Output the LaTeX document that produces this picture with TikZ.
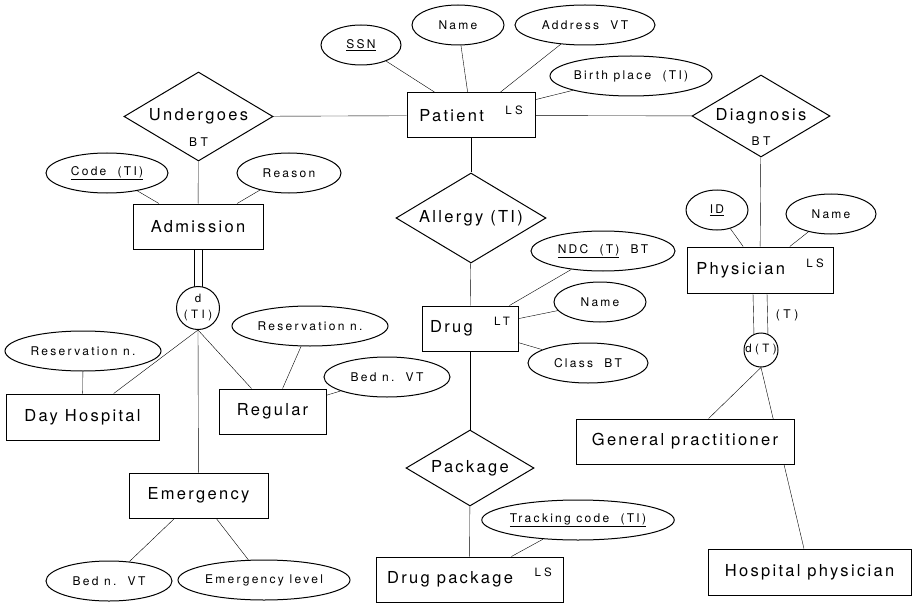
\documentclass[tikz,border=0pt]{standalone}
\usepackage{fontspec}
\setmainfont{TeX Gyre Heros}
\newfontfamily\entityfam[LetterSpace=14]{TeX Gyre Heros}
\newfontfamily\attrfam[LetterSpace=19]{TeX Gyre Heros}
\newfontfamily\tagfam[LetterSpace=30]{TeX Gyre Heros}
\usetikzlibrary{shapes.geometric,positioning,backgrounds}
\newcommand{\ertag}[1]{\hspace{1.3em}\smash{\raisebox{7pt}{\tagfam\fontsize{11.5}{13}\selectfont #1}}}

\begin{document}
\begin{tikzpicture}[x=1pt,y=-1pt,line width=1pt,node distance=26pt,
  entity/.style={rectangle,draw,fill=white,inner sep=0pt,minimum height=45pt,font={\entityfam\fontsize{16.5}{19}\selectfont}},
  relation/.style={diamond,draw,fill=white,aspect=1.68,inner sep=0pt,font={\entityfam\fontsize{16.5}{19}\selectfont}},
  attribute/.style={ellipse,draw,fill=white,inner sep=0pt,minimum height=40pt,font={\attrfam\fontsize{12}{14}\selectfont}},
  isa/.style={circle,draw,fill=white,inner sep=0pt,align=center,font={\tagfam\fontsize{11.5}{16}\selectfont}},
  tag/.style={inner sep=0pt,font={\tagfam\fontsize{12}{14}\selectfont}}]
\useasboundingbox (0,0) rectangle (912,604);

% entities
\node[entity,minimum width=128pt] (patient) at (471,115.5) {Patient\ertag{LS}};
\node[entity,minimum width=130pt] (admission) at (198,226.5) {Admission};
\node[entity,minimum width=96pt] (drug) at (470,328.5) {Drug\ertag{LT}};
\node[entity,minimum width=146pt,minimum height=46pt] (physician) at (760,270) {Physician\ertag{LS}};
\node[entity,minimum width=153pt,minimum height=46pt] (dayhosp) at (82.5,417) {Day Hospital};
\node[entity,minimum width=107pt] (regular) at (272.5,411.5) {Regular};
\node[entity,minimum width=139pt] (emergency) at (198.5,495.5) {Emergency};
\node[entity,minimum width=187pt] (drugpkg) at (469.5,579.5) {Drug package\ertag{LS}};
\node[entity,minimum width=218pt] (gp) at (685,441.5) {General practitioner};
\node[entity,minimum width=203pt,minimum height=46pt] (hosp) at (809.5,572) {Hospital physician};

% relationships
\node[relation,minimum width=149pt,minimum height=89pt] (undergoes) at (198.5,116.5) {Undergoes};
\node[tag] (undergoesbt) [below of=undergoes] {BT};
\node[relation,minimum width=138pt,minimum height=82pt] (diagnosis) at (761,116) {Diagnosis};
\node[tag] (diagnosisbt) [below of=diagnosis,node distance=25pt] {BT};
\node[relation,minimum width=150pt,minimum height=90pt] (allergy) at (471,218) {Allergy (TI)};
\node[relation,minimum width=128pt,minimum height=76pt] (package) at (470,468) {Package};

% generalizations
\node[isa,minimum size=43pt] (dti) at (198,308) {d\\(TI)};
\node[isa,minimum size=34pt] (dt) at (761,350) {d(T)};
\node[tag] (dtnote) at (787,315) {(T)};

% attributes
\node[attribute,minimum width=80pt] (ssn) at (361,45) {\underline{SSN}};
\node[attribute,minimum width=92pt] (pname) at (458,25) {Name};
\node[attribute,minimum width=140pt] (paddress) at (585,25) {Address~~VT};
\node[attribute,minimum width=162pt] (pbirth) at (631,76) {Birth place~~(TI)};
\node[attribute,minimum width=122pt] (acode) at (107,173) {\underline{Code~~(TI)}};
\node[attribute,minimum width=104pt] (areason) at (289,173) {Reason};
\node[attribute,minimum width=62pt] (phid) at (717,210) {\underline{ID}};
\node[attribute,minimum width=90pt] (phname) at (831,214) {Name};
\node[attribute,minimum width=144pt] (dndc) at (603,251) {\underline{NDC~~(T)}~~BT};
\node[attribute,minimum width=92pt] (dname) at (600,302) {Name};
\node[attribute,minimum width=120pt] (dclass) at (588,363) {Class~~BT};
\node[attribute,minimum width=188pt] (ptrack) at (578,520) {\underline{Tracking code~~(TI)}};
\node[attribute,minimum width=156pt] (dhres) at (83,351) {Reservation n.};
\node[attribute,minimum width=156pt] (rres) at (310,326) {Reservation n.};
\node[attribute,minimum width=126pt] (rbed) at (387,377) {Bed n.~~VT};
\node[attribute,minimum width=126pt] (ebed) at (109,581) {Bed n.~~VT};
\node[attribute,minimum width=172pt] (elevel) at (264,580) {Emergency level};

\begin{scope}[on background layer]
\path
(undergoes) edge (patient)
(undergoes) edge (admission)
(diagnosis) edge (patient)
(diagnosis) edge (physician)
(allergy) edge (patient)
(allergy) edge (drug)
(package) edge (drug)
(package) edge (drugpkg)
(ssn) edge (patient)
(pname) edge (patient)
(paddress) edge (patient)
(pbirth) edge (patient)
(acode) edge (admission)
(areason) edge (admission)
(phid) edge (physician)
(phname) edge (physician)
(dndc) edge (drug)
(dname) edge (drug)
(dclass) edge (drug)
(ptrack) edge (drugpkg)
(dhres) edge (dayhosp)
(rres) edge (regular)
(rbed) edge (regular)
(ebed) edge (emergency)
(elevel) edge (emergency)
([xshift=-4pt]admission.south) edge ([xshift=-4pt,yshift=-3pt]dti.north) % total, disjoint
([xshift=4pt]admission.south) edge ([xshift=4pt,yshift=-3pt]dti.north)
(dti.south) edge (dayhosp)
(dti.south) edge (regular)
(dti.south) edge (emergency)
([xshift=-7pt]physician.south) edge ([xshift=-7pt,yshift=-4pt]dt.north)
([xshift=7pt]physician.south) edge ([xshift=7pt,yshift=-4pt]dt.north)
(dt.south) edge (gp)
(dt.south) edge (hosp); % runs behind the general practitioner box
\end{scope}
\end{tikzpicture}
\end{document}
